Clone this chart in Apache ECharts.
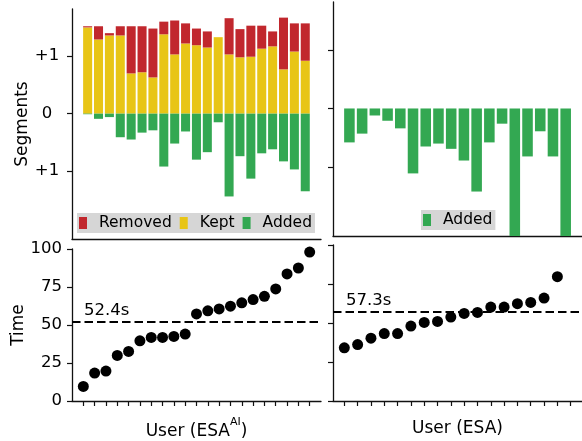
<!DOCTYPE html>
<html>
<head>
<meta charset="utf-8">
<script src="https://cdn.jsdelivr.net/npm/echarts@6/dist/echarts.min.js"></script>
<style>html,body{margin:0;padding:0;background:#fff;}#c{width:582px;height:441px;}</style>
</head>
<body>
<div id="c"></div>
<script>
// ---- data ----
const usersAI   = ['U1','U2','U3','U4','U5','U6','U7','U8','U9','U10','U11','U12','U13','U14','U15','U16','U17','U18','U19','U20','U21'];
const usersESA  = ['U1','U2','U3','U4','U5','U6','U7','U8','U9','U10','U11','U12','U13','U14','U15','U16','U17','U18'];
const keptAI    = [1.50, 1.29, 1.36, 1.36, 0.70, 0.72, 0.63, 1.38, 1.03, 1.22, 1.19, 1.15, 1.33, 1.03, 0.98, 0.99, 1.13, 1.17, 0.77, 1.08, 0.92];
const removedAI = [0.02, 0.23, 0.04, 0.16, 0.82, 0.80, 0.85, 0.22, 0.59, 0.35, 0.29, 0.28, 0.00, 0.63, 0.49, 0.54, 0.40, 0.26, 0.90, 0.49, 0.65];
const addedAI   = [-0.01, -0.09, -0.06, -0.41, -0.45, -0.33, -0.29, -0.92, -0.52, -0.31, -0.80, -0.67, -0.15, -1.44, -0.74, -1.13, -0.69, -0.62, -0.83, -0.97, -1.35];
const addedESA  = [-0.58, -0.43, -0.12, -0.21, -0.34, -1.11, -0.65, -0.60, -0.69, -0.89, -1.42, -0.58, -0.26, -2.60, -0.82, -0.39, -0.82, -2.40];
const timeAI    = [9.6, 18.4, 19.7, 30.0, 32.6, 39.6, 41.8, 41.8, 42.5, 44.0, 57.3, 59.3, 60.6, 62.4, 64.6, 66.7, 68.9, 73.7, 83.6, 87.5, 98.0];
const timeESA   = [34.1, 36.2, 40.3, 43.2, 43.2, 48.0, 50.4, 51.0, 53.8, 56.1, 56.8, 60.2, 60.2, 62.4, 63.2, 66.0, 79.7, 126.6];
const meanAI = 52.4;
const meanESA = 57.3;
const segTicks = [-1, 0, 1];
const segTickLabels = ['+1', '0', '+1'];
const timeTicks = [0, 25, 50, 75, 100];
const seriesNames = ['Removed', 'Kept', 'Added'];

// ---- styles ----
const FONT = 'DejaVu Sans';
const RED = '#c1272d', YEL = '#e8c516', GRN = '#33a852';
const axisLineStyle = { show: true, onZero: false, lineStyle: { color: '#111', width: 1.3 } };
const tickStyle = { lineStyle: { color: '#111', width: 1.2 }, length: 5 };
const SEG_MIN = -2.18, SEG_MAX = 1.82;

const chart = echarts.init(document.getElementById('c'), null, { renderer: 'canvas' });
const idx = a => a.map((v, i) => [i, v]);

const hiddenCat = (g, cats) => ({ gridIndex: g, type: 'category', data: cats, show: false, boundaryGap: true });
const hiddenSeg = g => ({ gridIndex: g, type: 'value', min: SEG_MIN, max: SEG_MAX, show: false, splitLine: { show: false } });
const G = o => Object.assign({ outerBoundsMode: 'none', containLabel: false }, o);

const option = {
  animation: false,
  textStyle: { fontFamily: FONT },
  grid: [
    G({ left: 72, top: 9, width: 249, height: 230 }),        // 0 top-left frame
    G({ left: 333, top: 2, width: 249, height: 234 }),       // 1 top-right frame
    G({ left: 72, top: 249, width: 249, height: 152 }),      // 2 bottom-left
    G({ left: 333, top: 245, width: 249, height: 156 }),     // 3 bottom-right
    G({ left: 82.2, top: 9, width: 228.5, height: 230 }),    // 4 top-left bars
    G({ left: 343.05, top: 2, width: 229, height: 234 })     // 5 top-right bars
  ],
  xAxis: [
    { gridIndex: 0, type: 'value', min: -1.44, max: 21.44, axisLine: axisLineStyle, axisTick: { show: false }, axisLabel: { show: false }, splitLine: { show: false } },
    { gridIndex: 1, type: 'value', min: -1.29, max: 18.29, axisLine: axisLineStyle, axisTick: { show: false }, axisLabel: { show: false }, splitLine: { show: false } },
    { gridIndex: 2, type: 'value', min: -1, max: 21, axisLine: axisLineStyle,
      axisTick: Object.assign({ show: true, customValues: timeAI.map((_, i) => i) }, tickStyle),
      axisLabel: { show: false }, splitLine: { show: false },
      name: '{t|User (ESA}{s|AI}{t|)}', nameLocation: 'middle', nameGap: 16,
      nameTextStyle: { rich: {
        t: { fontSize: 17, fontFamily: FONT, color: '#000', lineHeight: 23, verticalAlign: 'bottom' },
        s: { fontSize: 11, fontFamily: FONT, color: '#000', lineHeight: 12, verticalAlign: 'top' } } } },
    { gridIndex: 3, type: 'value', min: -0.85, max: 17.85, axisLine: axisLineStyle,
      axisTick: Object.assign({ show: true, customValues: timeESA.map((_, i) => i) }, tickStyle),
      axisLabel: { show: false }, splitLine: { show: false },
      name: 'User (ESA)', nameLocation: 'middle', nameGap: 19,
      nameTextStyle: { fontSize: 17, fontFamily: FONT, color: '#000' } },
    hiddenCat(4, usersAI),
    hiddenCat(5, usersESA)
  ],
  yAxis: [
    { gridIndex: 0, type: 'value', min: SEG_MIN, max: SEG_MAX, axisLine: axisLineStyle,
      axisTick: Object.assign({ show: true, customValues: segTicks }, tickStyle),
      axisLabel: { show: true, customValues: segTicks, align: 'center', margin: 25, fontSize: 16.5, color: '#000',
        formatter: v => segTickLabels[segTicks.indexOf(v)] },
      splitLine: { show: false },
      name: 'Segments', nameLocation: 'middle', nameGap: 41, nameTextStyle: { fontSize: 17, color: '#000' } },
    { gridIndex: 1, type: 'value', min: SEG_MIN, max: SEG_MAX, axisLine: axisLineStyle,
      axisTick: Object.assign({ show: true, customValues: segTicks }, tickStyle),
      axisLabel: { show: false }, splitLine: { show: false } },
    { gridIndex: 2, type: 'value', min: 0, max: 100, interval: 25, axisLine: axisLineStyle,
      axisTick: Object.assign({ show: true, customValues: timeTicks }, tickStyle),
      axisLabel: { show: true, customValues: timeTicks, margin: 10, fontSize: 16.5, color: '#000' },
      splitLine: { show: false },
      name: 'Time', nameLocation: 'middle', nameGap: 37, nameTextStyle: { fontSize: 17, color: '#000' } },
    { gridIndex: 3, type: 'value', min: 0, max: 100, interval: 25, axisLine: axisLineStyle,
      axisTick: Object.assign({ show: true, customValues: timeTicks }, tickStyle),
      axisLabel: { show: false }, splitLine: { show: false } },
    hiddenSeg(4),
    hiddenSeg(5)
  ],
  legend: [
    { data: seriesNames, left: 77, top: 213, orient: 'horizontal', icon: 'rect', itemWidth: 8, itemHeight: 12, itemGap: 8,
      backgroundColor: '#d6d6d6', borderRadius: 0, padding: [2, 3, 2, 2], selectedMode: false,
      textStyle: { fontSize: 15.5, color: '#000', fontFamily: FONT, padding: [0, 0, 0, 7] } },
    { data: ['Added'], left: 421, top: 210, orient: 'horizontal', icon: 'rect', itemWidth: 8, itemHeight: 12, itemGap: 8,
      backgroundColor: '#d6d6d6', borderRadius: 0, padding: [2, 3, 2, 2], selectedMode: false,
      textStyle: { fontSize: 15.5, color: '#000', fontFamily: FONT, padding: [0, 0, 0, 7] } }
  ],
  series: [
    { name: 'Kept', type: 'bar', xAxisIndex: 4, yAxisIndex: 4, stack: 'ai', barWidth: '83%', data: keptAI, itemStyle: { color: YEL } },
    { name: 'Removed', type: 'bar', xAxisIndex: 4, yAxisIndex: 4, stack: 'ai', barWidth: '83%', data: removedAI, itemStyle: { color: RED } },
    { name: 'Added', type: 'bar', xAxisIndex: 4, yAxisIndex: 4, stack: 'ai', barWidth: '83%', data: addedAI, itemStyle: { color: GRN } },
    { name: 'Added', type: 'bar', xAxisIndex: 5, yAxisIndex: 5, barWidth: '83%', clip: true, data: addedESA, itemStyle: { color: GRN } },
    { name: 'TimeAI', type: 'scatter', xAxisIndex: 2, yAxisIndex: 2, symbolSize: 11, clip: true, data: idx(timeAI), itemStyle: { color: '#000', opacity: 1 },
      markLine: { silent: true, symbol: 'none', data: [{ yAxis: meanAI }],
        lineStyle: { color: '#000', width: 2, type: [8.5, 4] },
        label: { position: 'insideStartTop', formatter: meanAI + 's', fontSize: 16.5, color: '#000', fontFamily: FONT, distance: [12, 2] } } },
    { name: 'TimeESA', type: 'scatter', xAxisIndex: 3, yAxisIndex: 3, symbolSize: 11, clip: true, data: idx(timeESA), itemStyle: { color: '#000', opacity: 1 },
      markLine: { silent: true, symbol: 'none', data: [{ yAxis: meanESA }],
        lineStyle: { color: '#000', width: 2, type: [8.5, 4] },
        label: { position: 'insideStartTop', formatter: meanESA + 's', fontSize: 16.5, color: '#000', fontFamily: FONT, distance: [13, 2] } } }
  ]
};
chart.setOption(option);
</script>
</body>
</html>
